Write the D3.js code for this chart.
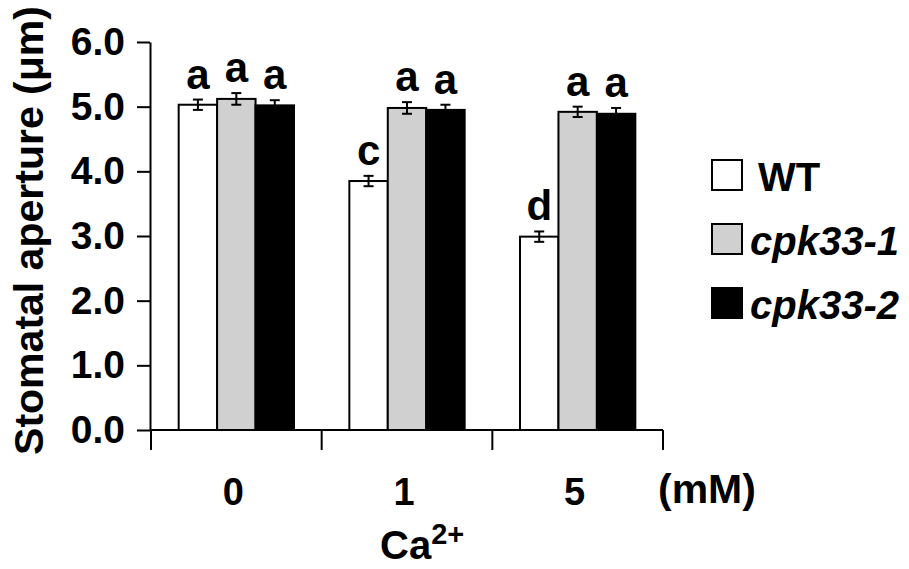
<!DOCTYPE html>
<html>
<head>
<meta charset="utf-8">
<script src="https://cdn.jsdelivr.net/npm/d3@7"></script>
<style>
  body { margin: 0; background: #fff; }
  svg { display: block; font-family: 'Liberation Sans', Arial, sans-serif; font-weight: bold; }
</style>
</head>
<body>
<div id="chart"></div>
<script>
// Ca2+ concentrations (mM) and genotypes
const concentrations = ['0', '1', '5']
const genotypes = ['WT', 'cpk33-1', 'cpk33-2']
// stomatal aperture means (um), one array per genotype, in concentration order
const wtMeans = [5.03, 3.85, 2.99]
const cpk331Means = [5.12, 4.98, 4.92]
const cpk332Means = [5.02, 4.95, 4.89]
// standard errors
const wtErrors = [0.08, 0.08, 0.08]
const cpk331Errors = [0.09, 0.09, 0.08]
const cpk332Errors = [0.08, 0.08, 0.09]
// significance letters
const wtLetters = ['a', 'c', 'd']
const cpk331Letters = ['a', 'a', 'a']
const cpk332Letters = ['a', 'a', 'a']
const yTicks = [0, 1, 2, 3, 4, 5, 6]

const width = 909
const height = 569

const fills = { WT: '#ffffff', 'cpk33-1': '#d0d0d0', 'cpk33-2': '#000000' }

const series = [
  { name: 'WT', means: wtMeans, errors: wtErrors, letters: wtLetters },
  { name: 'cpk33-1', means: cpk331Means, errors: cpk331Errors, letters: cpk331Letters },
  { name: 'cpk33-2', means: cpk332Means, errors: cpk332Errors, letters: cpk332Letters }
]

const rows = []
concentrations.forEach((c, i) => {
  series.forEach(s => {
    rows.push({ conc: c, name: s.name, value: s.means[i], err: s.errors[i], letter: s.letters[i] })
  })
})

const svg = d3.select('#chart').append('svg')
  .attr('width', width)
  .attr('height', height)

const x = d3.scaleBand()
  .domain(concentrations)
  .range([151, 663])
  .padding(0)

const xInner = d3.scaleBand()
  .domain(genotypes)
  .range([0, x.bandwidth()])
  .paddingInner(0)
  .paddingOuter(0.72)

const y = d3.scaleLinear()
  .domain([0, 6])
  .range([430, 42])

const barCenter = d => x(d.conc) + xInner(d.name) + xInner.bandwidth() / 2

// bars
svg.append('g')
  .selectAll('rect')
  .data(rows)
  .join('rect')
  .attr('x', d => x(d.conc) + xInner(d.name))
  .attr('y', d => y(d.value))
  .attr('width', xInner.bandwidth())
  .attr('height', d => y(0) - y(d.value))
  .attr('fill', d => fills[d.name])
  .attr('stroke', '#000')
  .attr('stroke-width', 2)

// error bars
const err = svg.append('g')
  .attr('stroke', '#000')
  .attr('stroke-width', 2)
  .selectAll('g')
  .data(rows)
  .join('g')
  .attr('transform', d => `translate(${barCenter(d)},0)`)

err.append('line')
  .attr('y1', d => y(d.value + d.err))
  .attr('y2', d => y(d.value - d.err))
err.append('line')
  .attr('x1', -5).attr('x2', 5)
  .attr('y1', d => y(d.value + d.err))
  .attr('y2', d => y(d.value + d.err))
err.append('line')
  .attr('x1', -5).attr('x2', 5)
  .attr('y1', d => y(d.value - d.err))
  .attr('y2', d => y(d.value - d.err))

// significance letters
svg.append('g')
  .selectAll('text')
  .data(rows)
  .join('text')
  .attr('x', barCenter)
  .attr('y', d => y(d.value + d.err) - 11)
  .attr('text-anchor', 'middle')
  .style('font-size', '42px')
  .text(d => d.letter)

// y axis
const yAxis = svg.append('g')
  .attr('transform', 'translate(150,0)')
  .call(d3.axisLeft(y)
    .tickValues(yTicks)
    .tickFormat(d3.format('.1f'))
    .tickSize(13)
    .tickSizeOuter(0)
    .tickPadding(12))
yAxis.selectAll('path, line').attr('stroke', '#000').attr('stroke-width', 2)
yAxis.selectAll('text')
  .attr('fill', '#000')
  .style('font-size', '39px')
  .style('font-family', "'Liberation Sans', Arial, sans-serif")
  .style('font-weight', 'bold')

// x axis line with ticks at group boundaries
const bounds = concentrations.map(c => x(c)).concat([x.range()[1]])
svg.append('line')
  .attr('x1', 150).attr('x2', x.range()[1])
  .attr('y1', y(0)).attr('y2', y(0))
  .attr('stroke', '#000').attr('stroke-width', 2)
svg.append('g')
  .selectAll('line')
  .data(bounds)
  .join('line')
  .attr('x1', d => d).attr('x2', d => d)
  .attr('y1', y(0)).attr('y2', y(0) + 20)
  .attr('stroke', '#000').attr('stroke-width', 2)

// x tick labels
svg.append('g')
  .selectAll('text')
  .data(concentrations)
  .join('text')
  .attr('x', d => x(d) + x.bandwidth() / 2 - 3)
  .attr('y', 505)
  .attr('text-anchor', 'middle')
  .style('font-size', '38px')
  .text(d => d)

svg.append('text')
  .attr('x', 658)
  .attr('y', 503)
  .style('font-size', '41px')
  .text('(mM)')

const caLabel = svg.append('text')
  .attr('x', 380)
  .attr('y', 559)
  .style('font-size', '40px')
caLabel.append('tspan').text('Ca')
caLabel.append('tspan')
  .attr('dy', -15)
  .style('font-size', '29px')
  .text('2+')

// y axis title
svg.append('text')
  .attr('transform', `translate(43,${(3 + 458) / 2}) rotate(-90)`)
  .attr('text-anchor', 'middle')
  .style('font-size', '41px')
  .text('Stomatal aperture (μm)')

// legend
const legend = svg.append('g')
  .selectAll('g')
  .data(genotypes)
  .join('g')
  .attr('transform', (d, i) => `translate(712,${160 + i * 64})`)

legend.append('rect')
  .attr('width', 30)
  .attr('height', 30)
  .attr('fill', d => fills[d])
  .attr('stroke', '#000')
  .attr('stroke-width', 2)

legend.append('text')
  .attr('x', d => d === 'WT' ? 46 : 38)
  .attr('y', 31)
  .style('font-size', '40px')
  .style('font-style', d => d === 'WT' ? 'normal' : 'italic')
  .text(d => d)
</script>
</body>
</html>
